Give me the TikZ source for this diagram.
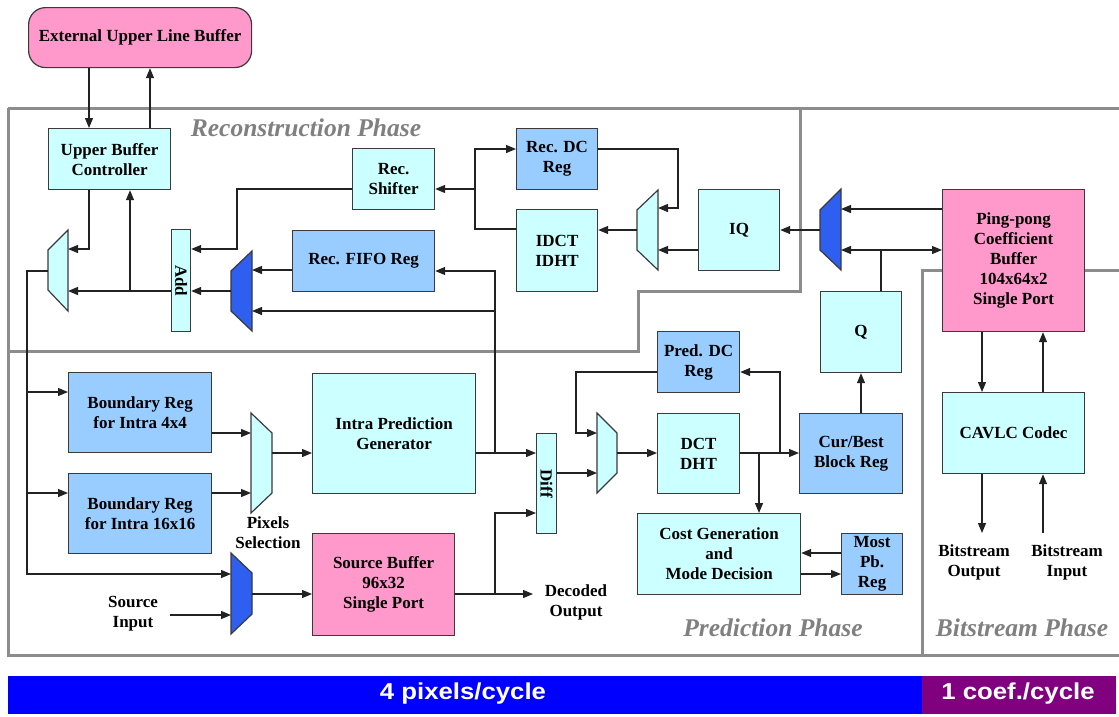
\documentclass[tikz,border=0pt]{standalone}
\usepackage{fontspec}
\setmainfont{Liberation Serif}
\setsansfont{Liberation Sans}
\usetikzlibrary{arrows.meta}
\definecolor{lcyan}{HTML}{CCFFFF}
\definecolor{lblue}{HTML}{99CCFF}
\definecolor{pinkc}{HTML}{FF99CC}
\definecolor{muxblue}{HTML}{2F5FF0}
\definecolor{edge}{HTML}{3A3A3A}
\definecolor{wirec}{HTML}{222222}
\definecolor{phasegray}{HTML}{8C8C8C}
\definecolor{phasetext}{HTML}{808080}
\definecolor{barblue}{HTML}{0000FF}
\definecolor{barpurple}{HTML}{800080}
\tikzset{
  blk/.style={draw=edge, line width=1.2pt, align=center, inner sep=0pt, anchor=north west,
    font=\bfseries\fontsize{17}{20}\selectfont, text=black},
  cyanbox/.style={blk, fill=lcyan},
  bluebox/.style={blk, fill=lblue},
  pinkbox/.style={blk, fill=pinkc},
  lbl/.style={align=center, inner sep=0pt, font=\bfseries\fontsize{17}{20}\selectfont},
  arr/.style={draw=wirec, line width=1.2pt, -{Triangle[length=10pt,width=8pt]}},
  ln/.style={draw=wirec, line width=1.2pt},
  muxl/.style={draw=edge, line width=1.2pt, fill=lcyan},
  muxd/.style={draw=edge, line width=1.2pt, fill=muxblue},
  phaseline/.style={draw=phasegray, line width=3pt},
  phasetxt/.style={text=phasetext, font=\bfseries\itshape\fontsize{25.5}{28}\selectfont, inner sep=0pt},
  bartxt/.style={text=white, font=\sffamily\bfseries\fontsize{23}{26}\selectfont, inner sep=0pt, xscale=1.12}
}
\begin{document}
\begin{tikzpicture}[x=1pt,y=-1pt]
\useasboundingbox (0,0) rectangle (1119,716);
\fill[white] (0,0) rectangle (1119,716);

% phase frames
\draw[phaseline] (8,108) -- (1119,108);
\draw[phaseline] (8,108) -- (8,655) -- (1119,655);
\draw[phaseline] (800,108) -- (800,291) -- (638,291) -- (638,351) -- (8,351);
\draw[phaseline] (922,655) -- (922,270) -- (1119,270);
\node[phasetxt] (lrec) at (306,128) {Reconstruction Phase};
\node[phasetxt] (lpred) at (773,628) {Prediction Phase};
\node[phasetxt] (lbit) at (1022,628) {Bitstream Phase};

% blocks
\node[pinkbox, rounded corners=17pt, minimum width=223pt, minimum height=60pt] (ext) at (28,7) {External Upper Line Buffer};
\node[cyanbox, minimum width=122pt, minimum height=61pt] (ubc) at (48,128) {Upper Buffer\\Controller};
\node[cyanbox, minimum width=82pt, minimum height=61pt] (recshift) at (352,148) {Rec.\\Shifter};
\node[bluebox, minimum width=142pt, minimum height=61pt] (recfifo) at (292,230) {Rec. FIFO Reg};
\node[bluebox, minimum width=81pt, minimum height=61pt] (recdc) at (516,128) {Rec. DC\\Reg};
\node[cyanbox, minimum width=81pt, minimum height=82pt] (idct) at (516,209) {IDCT\\IDHT};
\node[cyanbox, minimum width=81pt, minimum height=81pt] (iq) at (698,189) {IQ};
\node[cyanbox, minimum width=19pt, minimum height=102pt] (add) at (171,229) {};
\node[rotate=-90, lbl] at (add.center) {Add};
\node[pinkbox, minimum width=142pt, minimum height=142pt] (ping) at (942,189) {Ping-pong\\Coefficient\\Buffer\\104x64x2\\Single Port};
\node[cyanbox, minimum width=81pt, minimum height=81pt] (q) at (820,291) {Q};
\node[bluebox, minimum width=82pt, minimum height=61pt] (predc) at (657,331) {Pred. DC\\Reg};
\node[cyanbox, minimum width=82pt, minimum height=80pt] (dct) at (657,413) {DCT\\DHT};
\node[bluebox, minimum width=103pt, minimum height=80pt] (cur) at (799,413) {Cur/Best\\Block Reg};
\node[cyanbox, minimum width=163pt, minimum height=81pt] (cost) at (637,513) {Cost Generation\\and\\Mode Decision};
\node[bluebox, minimum width=61pt, minimum height=61pt] (most) at (841,533) {Most\\Pb.\\Reg};
\node[cyanbox, minimum width=142pt, minimum height=81pt] (cavlc) at (942,392) {CAVLC Codec};
\node[bluebox, minimum width=143pt, minimum height=80pt] (b4) at (68,372) {Boundary Reg\\for Intra 4x4};
\node[bluebox, minimum width=143pt, minimum height=80pt] (b16) at (68,473) {Boundary Reg\\for Intra 16x16};
\node[cyanbox, minimum width=163pt, minimum height=120pt] (intra) at (312,373) {Intra Prediction\\Generator};
\node[pinkbox, minimum width=142pt, minimum height=102pt] (src) at (312,533) {Source Buffer\\96x32\\Single Port};
\node[cyanbox, minimum width=20pt, minimum height=100pt] (diff) at (536,433) {};
\node[rotate=-90, lbl] at (diff.center) {Diff};

% multiplexers
\draw[muxl] (68,230) -- (68,311) -- (48,290) -- (48,250) -- cycle;
\coordinate (mAi1) at (68,249); \coordinate (mAi2) at (68,291); \coordinate (mAo) at (48,271);
\draw[muxd] (252,251) -- (252,331) -- (231,311) -- (231,271) -- cycle;
\coordinate (mBi1) at (252,270); \coordinate (mBi2) at (252,311); \coordinate (mBo) at (231,291);
\draw[muxl] (658,190) -- (658,270) -- (637,250) -- (637,210) -- cycle;
\coordinate (mCi1) at (658,208); \coordinate (mCi2) at (658,250); \coordinate (mCo) at (637,230);
\draw[muxd] (841,189) -- (841,270) -- (820,250) -- (820,210) -- cycle;
\coordinate (mDi1) at (841,209); \coordinate (mDi2) at (841,250); \coordinate (mDo) at (820,230);
\draw[muxl] (251,413) -- (251,513) -- (272,493) -- (272,433) -- cycle;
\coordinate (mEi1) at (251,433); \coordinate (mEi2) at (251,493); \coordinate (mEo) at (272,453);
\draw[muxd] (231,553) -- (231,634) -- (252,614) -- (252,573) -- cycle;
\coordinate (mFi1) at (231,574); \coordinate (mFi2) at (231,615); \coordinate (mFo) at (252,594);
\draw[muxl] (597,413) -- (597,493) -- (617,473) -- (617,433) -- cycle;
\coordinate (mGi1) at (597,433); \coordinate (mGi2) at (597,473); \coordinate (mGo) at (617,453);

% free labels
\node[lbl] (pixsel) at (268,533) {Pixels\\Selection};
\node[lbl] (srcin) at (133,614) {Source\\Input};
\node[lbl] (decout) at (576,602) {Decoded\\Output};
\node[lbl] (bsout) at (974,562) {Bitstream\\Output};
\node[lbl] (bsin) at (1067,562) {Bitstream\\Input};
\coordinate (bsoutp) at (982,533);
\coordinate (bsinp) at (1043,533);
\coordinate (decp) at (533,594);

% reconstruction path
\draw[arr] (ext.south -| 89,0) -- (ubc.north -| 89,0);
\draw[arr] (ubc.north -| 150,0) -- (ext.south -| 150,0);
\draw[arr] (ubc.south -| 89,0) |- (mAi1);
\draw[arr] (add.west |- mAi2) -- (mAi2);
\draw[arr] (130,291) -- (ubc.south -| 130,0);
\draw[arr] (mAo) -| (27,574) -- (mFi1);
\draw[arr] (27,392) -- (b4.west |- 27,392);
\draw[arr] (27,493) -- (b16.west |- 27,493);
\draw[arr] (mBo) -- (add.east |- mBo);
\draw[arr] (recshift.west |- 0,189) -| (237,249) -- (add.east |- 0,249);
\draw[arr] (recfifo.west |- mBi1) -- (mBi1);
\draw[arr] (idct.west |- 0,229) -| (475,149) -- (recdc.west |- 0,149);
\draw[arr] (475,189) -- (recshift.east |- 0,189);
\draw[arr] (mCo) -- (idct.east |- mCo);
\draw[arr] (recdc.east |- 0,149) -| (678,208) -- (mCi1);
\draw[arr] (iq.west |- mCi2) -- (mCi2);
\draw[arr] (mDo) -- (iq.east |- mDo);
\draw[arr] (ping.west |- mDi1) -- (mDi1);
\draw[arr] (881,250) -- (mDi2);
\draw[arr] (881,250) -- (ping.west |- 0,250);
\draw[ln] (q.north -| 881,0) -- (881,250);
\draw[arr] (cur.north -| 861,0) -- (q.south -| 861,0);

% bitstream path
\draw[arr] (ping.south -| 982,0) -- (cavlc.north -| 982,0);
\draw[arr] (cavlc.north -| 1043,0) -- (ping.south -| 1043,0);
\draw[arr] (cavlc.south -| bsoutp) -- (bsoutp);
\draw[arr] (bsinp) -- (cavlc.south -| bsinp);

% prediction path
\draw[arr] (b4.east |- mEi1) -- (mEi1);
\draw[arr] (b16.east |- mEi2) -- (mEi2);
\draw[arr] (mEo) -- (intra.west |- mEo);
\draw[arr] (intra.east |- 0,453) -- (diff.west |- 0,453);
\draw[arr] (495,453) |- (recfifo.east |- 0,271);
\draw[arr] (495,311) -- (mBi2);
\draw[arr] (srcin.east |- mFi2) ++(12,0) -- (mFi2);
\draw[arr] (mFo) -- (src.west |- mFo);
\draw[arr] (src.east |- decp) -- (decp);
\draw[arr] (495,594) |- (diff.west |- 0,513);
\draw[arr] (diff.east |- mGi2) -- (mGi2);
\draw[arr] (predc.west |- 0,372) -| (576,433) -- (mGi1);
\draw[arr] (mGo) -- (dct.west |- mGo);
\draw[arr] (dct.east |- 0,453) -- (cur.west |- 0,453);
\draw[arr] (759,453) -- (cost.north -| 759,0);
\draw[arr] (780,453) |- (predc.east |- 0,372);
\draw[arr] (most.west |- 0,553) -- (cost.east |- 0,553);
\draw[arr] (cost.east |- 0,574) -- (most.west |- 0,574);

% throughput bar
\fill[barblue] (8,676) rectangle (922,714);
\fill[barpurple] (922,676) rectangle (1116,714);
\node[bartxt] (bar1) at (463,694) {4 pixels/cycle};
\node[bartxt] (bar2) at (1018,694) {1 coef./cycle};
\end{tikzpicture}
\end{document}
